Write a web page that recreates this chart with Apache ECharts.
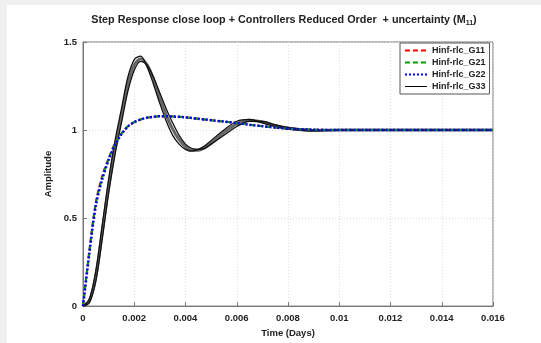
<!DOCTYPE html>
<html>
<head>
<meta charset="utf-8">
<script src="https://cdn.jsdelivr.net/npm/echarts@6/dist/echarts.min.js"></script>
<style>
html,body{margin:0;padding:0;background:#f0f0f0;width:541px;height:343px;overflow:hidden;}
#c{position:absolute;left:7px;top:5px;width:534px;height:338px;background:#fff;}
</style>
</head>
<body>
<div id="c"></div>
<script>
// time samples (days)
const time = [0,0.00025,0.0005,0.00075,0.001,0.00125,0.0015,0.00175,0.002,0.00225,0.0025,0.00275,0.003,0.00325,0.0035,0.00375,0.004,0.00425,0.0045,0.00475,0.005,0.0055,0.006,0.0065,0.007,0.0075,0.008,0.009,0.01,0.011,0.012,0.013,0.014,0.015,0.016];
const G11 = [0,0.32,0.59,0.74,0.84,0.925,0.98,1.02,1.045,1.06,1.07,1.075,1.078,1.078,1.077,1.075,1.072,1.068,1.064,1.06,1.056,1.048,1.04,1.03,1.022,1.014,1.008,1.002,1.0,1.0,1.0,1.0,1.0,1.0,1.0];
const G21 = [0,0.31,0.58,0.73,0.835,0.92,0.98,1.02,1.045,1.06,1.07,1.075,1.078,1.078,1.077,1.075,1.072,1.068,1.064,1.06,1.056,1.048,1.04,1.03,1.022,1.014,1.008,1.002,1.0,1.0,1.0,1.0,1.0,1.0,1.0];
const G22 = [0,0.30,0.57,0.72,0.83,0.915,0.975,1.02,1.045,1.06,1.07,1.075,1.078,1.078,1.077,1.075,1.072,1.068,1.064,1.06,1.056,1.048,1.04,1.03,1.022,1.014,1.008,1.002,1.0,1.0,1.0,1.0,1.0,1.0,1.0];
const G33 = [0,0.03,0.17,0.42,0.68,0.90,1.08,1.26,1.37,1.405,1.37,1.29,1.18,1.085,1.005,0.945,0.905,0.885,0.885,0.90,0.925,0.985,1.035,1.055,1.045,1.025,1.01,0.997,1.0,1.0,1.0,1.0,1.0,1.0,1.0];
const G33hi = [0,0.04,0.2,0.46,0.72,0.94,1.12,1.30,1.40,1.42,1.36,1.26,1.15,1.05,0.97,0.92,0.89,0.88,0.89,0.91,0.94,1.0,1.05,1.06,1.04,1.02,1.005,0.995,1.0,1.0,1.0,1.0,1.0,1.0,1.0];
const G33lo = [0,0.02,0.14,0.38,0.64,0.86,1.04,1.22,1.34,1.39,1.37,1.30,1.21,1.12,1.04,0.97,0.92,0.895,0.89,0.895,0.92,0.97,1.02,1.05,1.05,1.03,1.015,1.0,0.998,1.0,1.0,1.0,1.0,1.0,1.0];
const xTicks = ['0','0.002','0.004','0.006','0.008','0.01','0.012','0.014','0.016'];
const yTicks = ['0','0.5','1','1.5'];
const names = ['Hinf-rlc_G11','Hinf-rlc_G21','Hinf-rlc_G22','Hinf-rlc_G33'];

const pair = arr => time.map((t,i)=>[t,arr[i]]);
const font = 'Liberation Sans, Arial, sans-serif';
const chart = echarts.init(document.getElementById('c'), null, {renderer:'canvas'});
chart.setOption({
  animation:false,
  backgroundColor:'#fff',
  graphic:[{
    type:'text', x:277, y:15,
    style:{
      text:'Step Response close loop + Controllers Reduced Order  + uncertainty (M{s|11})',
      textAlign:'center', textVerticalAlign:'middle',
      font:'bold 10.8px '+font, fill:'#222',
      rich:{s:{fontSize:7,fontWeight:'bold',verticalAlign:'bottom',padding:[6,0,0,0],fontFamily:font,fill:'#222'}}
    }
  }],
  grid:{left:76,top:37,right:48,bottom:34,show:true,borderColor:'#777',borderWidth:1,backgroundColor:'#fff'},
  legend:{
    orient:'vertical', left:393, top:38,
    backgroundColor:'#fff', borderColor:'#555', borderWidth:1,
    padding:[3,4,3,4], itemGap:3, itemWidth:22, itemHeight:9,
    itemStyle:{opacity:0},
    textStyle:{fontSize:9,fontWeight:'bold',fontFamily:font,color:'#222'},
    data:[
      {name:names[0]},{name:names[1]},{name:names[2]},
      {name:names[3], lineStyle:{width:1,color:'#000',type:'solid'}}
    ]
  },
  xAxis:{
    type:'value', min:0, max:0.016, interval:0.002,
    name:'Time (Days)', nameLocation:'middle', nameGap:21,
    nameTextStyle:{fontSize:9.5,fontWeight:'bold',fontFamily:font,color:'#222'},
    axisLine:{show:true,onZero:false,lineStyle:{color:'#777'}},
    axisTick:{inside:true,length:4,lineStyle:{color:'#777'}},
    axisLabel:{fontSize:9.5,fontWeight:'bold',fontFamily:font,color:'#222',margin:7,
      formatter:(v)=>{const i=Math.round(v/0.002);return xTicks[i]!==undefined?xTicks[i]:'';}},
    splitLine:{show:true,lineStyle:{color:'#ddd',type:[1,2]}}
  },
  yAxis:{
    type:'value', min:0, max:1.5, interval:0.5,
    name:'Amplitude', nameLocation:'middle', nameGap:21,
    nameTextStyle:{fontSize:9.5,fontWeight:'bold',fontFamily:font,color:'#222'},
    axisLine:{show:true,lineStyle:{color:'#777'}},
    axisTick:{show:true,inside:true,length:4,lineStyle:{color:'#777'}},
    axisLabel:{fontSize:9.5,fontWeight:'bold',fontFamily:font,color:'#222',margin:6,
      formatter:(v)=>{const i=Math.round(v/0.5);return yTicks[i]!==undefined?yTicks[i]:'';}},
    splitLine:{show:true,lineStyle:{color:'#ddd',type:[1,2]}}
  },
  series:[
    {name:'_band', type:'line', data:pair(G33hi), smooth:0.3, symbol:'none', lineStyle:{color:'#111',width:1.3}, z:3},
    {name:'_band2', type:'line', data:pair(G33lo), smooth:0.3, symbol:'none', lineStyle:{color:'#111',width:1.3}, z:3},
    {name:names[3], type:'line', data:pair(G33), smooth:0.3, symbol:'none', lineStyle:{color:'#666',width:3}, z:2},
    {name:names[0], type:'line', data:pair(G11), smooth:0.3, symbol:'none', lineStyle:{color:'#ff0000',width:2,type:[5,3]}, z:4},
    {name:names[1], type:'line', data:pair(G21), smooth:0.3, symbol:'none', lineStyle:{color:'#00a000',width:2,type:[5,3]}, z:5},
    {name:names[2], type:'line', data:pair(G22), smooth:0.3, symbol:'none', lineStyle:{color:'#0000ff',width:2.5,type:[2,2]}, z:6}
  ]
});
</script>
</body>
</html>
